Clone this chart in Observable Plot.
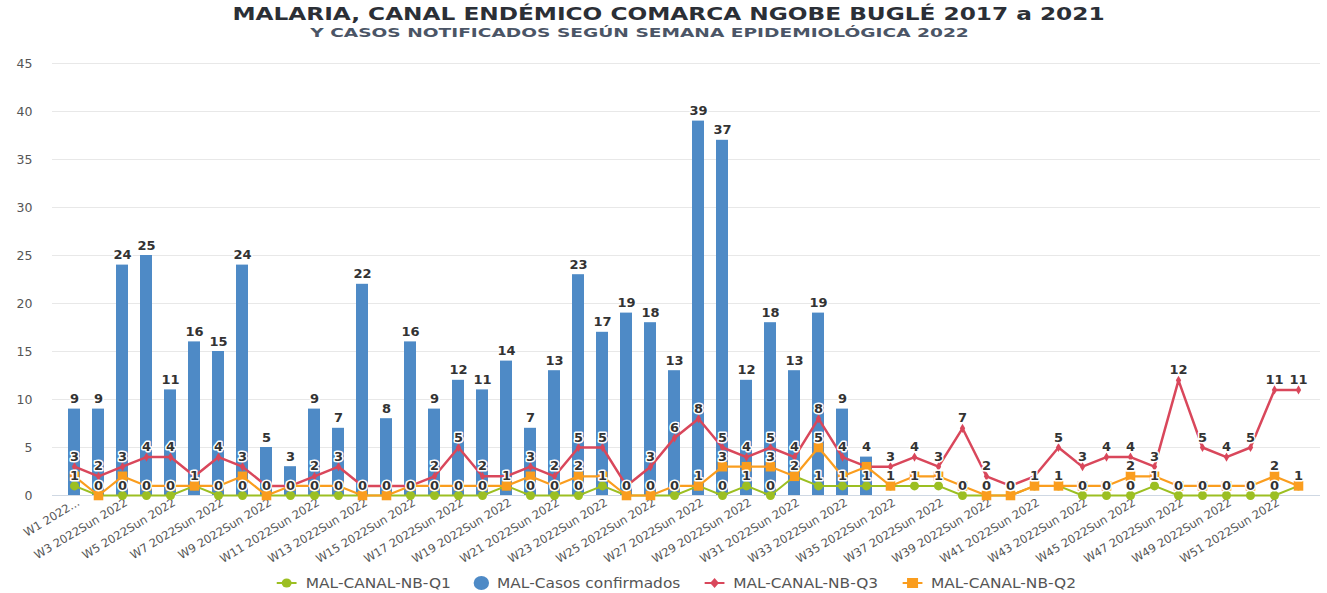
<!DOCTYPE html>
<html>
<head>
<meta charset="utf-8">
<script src="https://cdn.jsdelivr.net/npm/d3@7"></script>
<script src="https://cdn.jsdelivr.net/npm/@observablehq/plot@0.6"></script>
<style>
  html, body { margin: 0; padding: 0; background: #fff; }
  body { width: 1327px; height: 593px; position: relative; overflow: hidden; font-family: "DejaVu Sans", sans-serif; }
  #title { position: absolute; top: 2px; left: 5px; width: 1327px; text-align: center; font-size: 18px; font-weight: bold; color: #2b2f36; line-height: 24px; transform: scaleX(1.29); transform-origin: 50% 0; }
  #subtitle { position: absolute; top: 25px; left: -24px; width: 1327px; text-align: center; font-size: 13px; font-weight: bold; color: #4b5566; line-height: 16px; transform: scaleX(1.43); transform-origin: 50% 0; }
  #chart { position: absolute; top: 45px; left: 0; }
  #legend { position: absolute; top: 574px; left: 12px; width: 1327px; display: flex; justify-content: center; gap: 20px; font-size: 14px; color: #555; line-height: 18px; transform: scaleX(1.1); transform-origin: 50% 0; }
  #legend span.item { display: flex; align-items: center; gap: 6px; }
</style>
</head>
<body>
<div id="title">MALARIA, CANAL ENDÉMICO COMARCA NGOBE BUGLÉ 2017 a 2021</div>
<div id="subtitle">Y CASOS NOTIFICADOS SEGÚN SEMANA EPIDEMIOLÓGICA 2022</div>
<div id="chart"></div>
<div id="legend"></div>
<script>
// ---- data ----
const weeks = d3.range(1, 53).map(i => "W" + i);
const xTickLabels = weeks.map((w, i) => i % 2 === 0 ? (i === 0 ? "W1 2022..." : w + " 2022Sun 2022") : "");
const casosConfirmados = [9, 9, 24, 25, 11, 16, 15, 24, 5, 3, 9, 7, 22, 8, 16, 9, 12, 11, 14, 7, 13, 23, 17, 19, 18, 13, 39, 37, 12, 18, 13, 19, 9, 4];
const canalQ1 = [1, 0, 0, 0, 0, 1, 0, 0, 0, 0, 0, 0, 0, 0, 0, 0, 0, 0, 1, 0, 0, 0, 1, 0, 0, 0, 1, 0, 1, 0, 2, 1, 1, 1, 1, 1, 1, 0, 0, 0, 1, 1, 0, 0, 0, 1, 0, 0, 0, 0, 0, 1];
const canalQ2 = [2, 0, 2, 1, 1, 1, 1, 2, 0, 1, 1, 1, 0, 0, 1, 1, 1, 1, 1, 2, 1, 2, 2, 0, 0, 1, 1, 3, 3, 3, 2, 5, 2, 3, 1, 2, 2, 1, 0, 0, 1, 1, 1, 1, 2, 2, 1, 1, 1, 1, 2, 1];
const canalQ3 = [3, 2, 3, 4, 4, 2, 4, 3, 1, 1, 2, 3, 1, 1, 1, 2, 5, 2, 2, 3, 2, 5, 5, 1, 3, 6, 8, 5, 4, 5, 4, 8, 4, 3, 3, 4, 3, 7, 2, 1, 2, 5, 3, 4, 4, 3, 12, 5, 4, 5, 11, 11];
const yTicks = d3.range(0, 50, 5);

const seriesNames = ["MAL-CANAL-NB-Q1", "MAL-Casos confirmados", "MAL-CANAL-NB-Q3", "MAL-CANAL-NB-Q2"];
const colors = { q1: "#9cbf22", casos: "#4e8ac6", q3: "#d9475b", q2: "#fa9d1e" };

// ---- tables ----
const casosRows = casosConfirmados.map((v, i) => ({ week: weeks[i], value: v, key: "casos" }));
const q1Rows = canalQ1.map((v, i) => ({ week: weeks[i], value: v, key: "q1" }));
const q2Rows = canalQ2.map((v, i) => ({ week: weeks[i], value: v, key: "q2" }));
const q3Rows = canalQ3.map((v, i) => ({ week: weeks[i], value: v, key: "q3" }));

// label visibility: per week, place labels in priority order, hide labels too close to an already placed one
const labelRows = [];
weeks.forEach((w, i) => {
  const cands = [q1Rows[i], casosRows[i], q3Rows[i], q2Rows[i]].filter(d => d !== undefined);
  const placed = [];
  for (const c of cands) {
    if (placed.every(p => Math.abs(p.value - c.value) > 1)) { placed.push(c); labelRows.push(c); }
  }
});

const chart = Plot.plot({
  width: 1327,
  height: 527,
  marginLeft: 52,
  marginRight: 7,
  marginTop: 18,
  marginBottom: 77,
  style: { fontFamily: "DejaVu Sans, sans-serif", background: "white" },
  x: { domain: weeks, padding: 0.52, label: null, axis: null },
  y: { domain: [0, 45], label: null, axis: null },
  marks: [
    Plot.gridY(yTicks, { stroke: "#e8e8e8", strokeOpacity: 1 }),
    Plot.axisY(yTicks, { tickSize: 0, tickPadding: 20, fontSize: 12.5, fill: "#555", label: null }),
    Plot.axisX(weeks, { tickSize: 0, tickPadding: 6, tickRotate: -31, fontSize: 11.5, fill: "#555", label: null, dx: 4, tickFormat: (d) => xTickLabels[weeks.indexOf(d)] }),
    Plot.barY(casosRows, { x: "week", y: "value", fill: colors.casos }),
    Plot.ruleY([0], { stroke: "#cfd8e3", strokeWidth: 1 }),
    Plot.line(q1Rows, { x: "week", y: "value", stroke: colors.q1, strokeWidth: 2 }),
    Plot.dot(q1Rows, { x: "week", y: "value", fill: colors.q1, r: 4.5, symbol: "circle" }),
    Plot.line(q3Rows, { x: "week", y: "value", stroke: colors.q3, strokeWidth: 2.5 }),
    Plot.dot(q3Rows, { x: "week", y: "value", fill: colors.q3, r: 2.8, symbol: "diamond" }),
    Plot.line(q2Rows, { x: "week", y: "value", stroke: colors.q2, strokeWidth: 2.2 }),
    Plot.dot(q2Rows, { x: "week", y: "value", fill: colors.q2, r: 5.4, symbol: "square" }),
    Plot.text(labelRows, { x: "week", y: "value", text: d => String(d.value), dy: -10, fill: "#333", stroke: "white", strokeWidth: 3, fontSize: 13, fontWeight: "bold" })
  ]
});
document.getElementById("chart").appendChild(chart);

// ---- legend ----
const legend = document.getElementById("legend");
const legendMarkers = [
  `<svg width="22" height="12"><line x1="2" y1="6" x2="20" y2="6" stroke="${colors.q1}" stroke-width="2"/><circle cx="11" cy="6" r="4.5" fill="${colors.q1}"/></svg>`,
  `<svg width="16" height="16"><circle cx="8" cy="8" r="7" fill="${colors.casos}"/></svg>`,
  `<svg width="22" height="12"><line x1="2" y1="6" x2="20" y2="6" stroke="${colors.q3}" stroke-width="2"/><path d="M11,1 L15,6 L11,11 L7,6Z" fill="${colors.q3}"/></svg>`,
  `<svg width="22" height="12"><line x1="2" y1="6" x2="20" y2="6" stroke="${colors.q2}" stroke-width="2"/><rect x="6" y="1" width="10" height="10" fill="${colors.q2}"/></svg>`
];
seriesNames.forEach((name, i) => {
  const s = document.createElement("span");
  s.className = "item";
  s.innerHTML = legendMarkers[i] + `<span>${name}</span>`;
  legend.appendChild(s);
});
</script>
</body>
</html>
